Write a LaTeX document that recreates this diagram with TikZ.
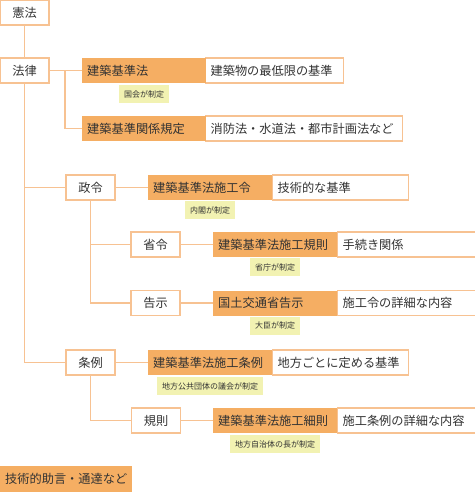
\documentclass[tikz,border=0pt]{standalone}
\usepackage{fontspec}
\setmainfont{Noto Sans CJK JP}
\usetikzlibrary{positioning}

\definecolor{lawor}{HTML}{F5AE63}
\definecolor{edgeor}{HTML}{F7C292}
\definecolor{noteyl}{HTML}{F2F2B2}
\definecolor{textgr}{HTML}{333333}

\begin{document}
\begin{tikzpicture}[x=1pt, y=-1pt,
  font=\fontsize{12.2}{14}\selectfont, text=textgr,
  catbox/.style={draw=edgeor, line width=1.2pt, fill=white, minimum width=49pt, minimum height=25pt, inner sep=0pt},
  lawbox/.style={fill=lawor, minimum height=25pt, inner xsep=5pt, inner ysep=0pt, text width=114pt, align=left, anchor=west},
  descbox/.style={draw=edgeor, line width=1.2pt, fill=white, minimum height=25pt, inner xsep=5pt, inner ysep=0pt, text width=#1, align=left, anchor=west},
  notebox/.style={fill=noteyl, minimum height=18pt, inner xsep=5pt, inner ysep=0pt, font=\fontsize{8}{9}\selectfont, anchor=north},
  link/.style={draw=edgeor, line width=1.5pt}]
  \useasboundingbox (0,0) rectangle (474,492);

  % Constitution and laws
  \node[catbox] (kenpo) at (24.5,12.5) {憲法};
  \node[catbox] (horitsu) at (24.5,70.5) {法律};
  \node[descbox=128pt] (kijunhodesc) at (205,70.5) {建築物の最低限の基準};
  \node[lawbox] (kijunho) at (82,70.5) {建築基準法};
  \node[notebox] (kijunhonote) at ([yshift=-2pt]kijunho.south) {国会が制定};
  \node[descbox=187pt] (kankeidesc) at (205,128.5) {消防法・水道法・都市計画法など};
  \node[lawbox] (kankei) at (82,128.5) {建築基準関係規定};

  % Cabinet orders
  \node[catbox] (seirei) at (90.5,187.5) {政令};
  \node[descbox=126pt] (sekoreidesc) at (272,187.5) {技術的な基準};
  \node[lawbox] (sekorei) at (148,187.5) {建築基準法施工令};
  \node[notebox] (sekoreinote) at ([yshift=-1pt]sekorei.south) {内閣が制定};

  % Ministerial ordinances
  \node[catbox] (shorei) at (155.5,244.5) {省令};
  \node[descbox=135pt] (sekokisokudesc) at (337,244.5) {手続き関係};
  \node[lawbox] (sekokisoku) at (213,244.5) {建築基準法施工規則};
  \node[notebox] (sekokisokunote) at ([yshift=-1pt]sekokisoku.south) {省庁が制定};

  % Notifications
  \node[catbox] (kokuji) at (155.5,303) {告示};
  \node[descbox=135pt] (kokutsudesc) at (337,303) {施工令の詳細な内容};
  \node[lawbox] (kokutsu) at (213,303) {国土交通省告示};
  \node[notebox] (kokutsunote) at ([yshift=-1pt]kokutsu.south) {大臣が制定};

  % Local ordinances
  \node[catbox] (jorei) at (90.5,362.5) {条例};
  \node[descbox=126pt] (sekojoreidesc) at (272,362.5) {地方ごとに定める基準};
  \node[lawbox] (sekojorei) at (148,362.5) {建築基準法施工条例};
  \node[notebox] (sekojoreinote) at ([yshift=-2pt]sekojorei.south) {地方公共団体の議会が制定};

  % Local rules
  \node[catbox] (kisoku) at (156,420.5) {規則};
  \node[descbox=135pt] (saisokudesc) at (337,420.5) {施工条例の詳細な内容};
  \node[lawbox] (saisoku) at (213,420.5) {建築基準法施工細則};
  \node[notebox] (saisokunote) at ([yshift=-2pt]saisoku.south) {地方自治体の長が制定};

  % Technical advice
  \node[lawbox, minimum height=26pt, text width=122pt] (gijutsu) at (0,479) {技術的助言・通達など};

  % Connectors
  \coordinate (hbranch) at (65,70.5);
  \path[link] (kenpo.south) -- (horitsu.north);
  \path[link] (horitsu.east) -- (kijunho.west);
  \path[link] (hbranch) |- (kankei.west);
  \path[link] (horitsu.south) |- (jorei.west);
  \path[link] (horitsu.south |- seirei.west) -- (seirei.west);
  \path[link] (seirei.east) -- (sekorei.west);
  \path[link] (seirei.south) |- (kokuji.west);
  \path[link] (seirei.south |- shorei.west) -- (shorei.west);
  \path[link] (shorei.east) -- (sekokisoku.west);
  \path[link] (kokuji.east) -- (kokutsu.west);
  \path[link] (jorei.east) -- (sekojorei.west);
  \path[link] (jorei.south) |- (kisoku.west);
  \path[link] (kisoku.east) -- (saisoku.west);
\end{tikzpicture}
\end{document}
